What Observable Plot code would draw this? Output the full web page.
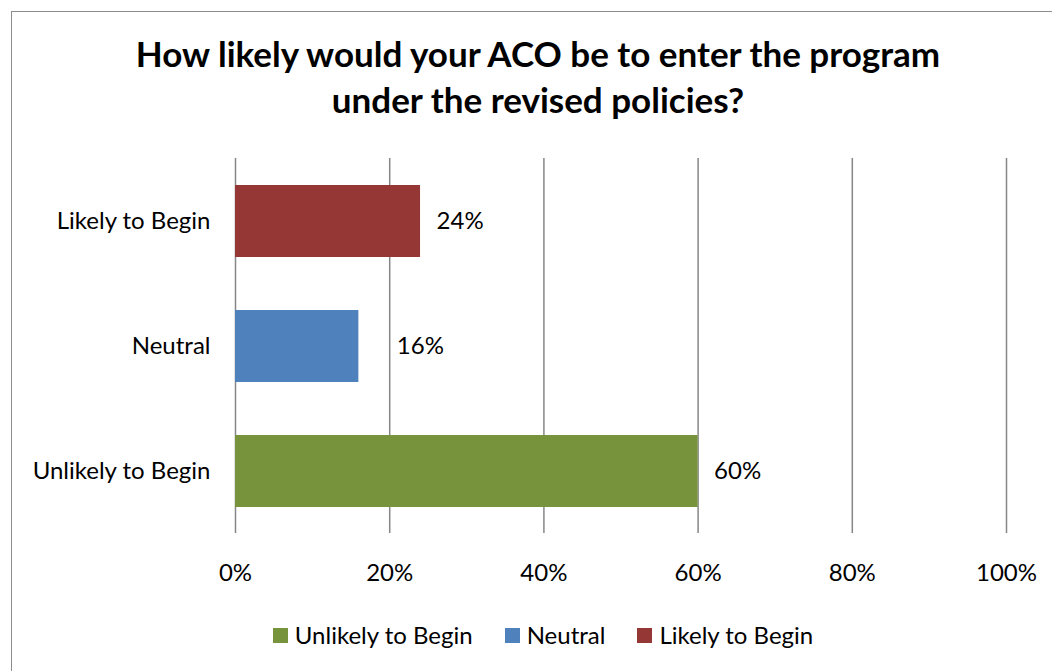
<!DOCTYPE html>
<html>
<head>
<meta charset="utf-8">
<script src="https://cdn.jsdelivr.net/npm/d3@7"></script>
<script src="https://cdn.jsdelivr.net/npm/@observablehq/plot@0.6"></script>
<style>
  html, body { margin: 0; padding: 0; background: #fff; }
  #wrap { position: relative; width: 1052px; height: 671px; overflow: hidden; font-family: Lato, "Open Sans", sans-serif; color: #000; }
  #frame { position: absolute; left: 11px; top: 11px; width: 1060px; height: 700px; border: 1.5px solid #8c8c8c; box-sizing: border-box; }
  #title { position: absolute; left: 0; top: 30px; width: 1076px; text-align: center; font-weight: bold; font-size: 35px; line-height: 46px; }
  #chart { position: absolute; left: 0; top: 158px; }
  #legend { position: absolute; left: 0; top: 620px; width: 1086px; display: flex; justify-content: center; gap: 32px; font-size: 24px; line-height: 30px; }
  .item { display: flex; align-items: center; }
  .sw { width: 15px; height: 15px; margin-right: 7px; }
</style>
</head>
<body>
<div id="wrap">
  <div id="frame"></div>
  <div id="title">How likely would your ACO be to enter the program<br>under the revised policies?</div>
  <div id="chart"></div>
  <div id="legend"></div>
</div>
<script>
const categories = ["Unlikely to Begin", "Neutral", "Likely to Begin"];
const values = [60, 16, 24];
const colors = ["#77933C", "#4F81BD", "#953735"];
const xTicks = [0, 20, 40, 60, 80, 100];

const data = categories.map((c, i) => ({category: c, value: values[i], color: colors[i]}));
// a label that would sit on a gridline is pushed past it (as in the original)
const nearGrid = d => xTicks.some(t => t > d.value && t - d.value < 5);

const chart = Plot.plot({
  width: 1052,
  height: 450,
  marginLeft: 235,
  marginRight: 46,
  marginTop: 0,
  marginBottom: 75,
  style: {fontFamily: "Lato, 'Open Sans', sans-serif", fontSize: "24px", color: "#000", background: "transparent"},
  x: {domain: [0, 100], ticks: xTicks, tickFormat: d => d + "%", label: null, tickSize: 0, tickPadding: 30},
  y: {domain: categories.slice().reverse(), paddingInner: 0.424, paddingOuter: 0.212, label: null, tickSize: 0, tickPadding: 25},
  marks: [
    Plot.gridX(xTicks, {stroke: "#868686", strokeOpacity: 1, strokeWidth: 1.5}),
    Plot.barX(data, {x: "value", y: "category", fill: "color"}),
    Plot.text(data.filter(d => !nearGrid(d)), {x: "value", y: "category", text: d => d.value + "%", textAnchor: "start", dx: 16, fill: "#000", fontSize: 24}),
    Plot.text(data.filter(nearGrid), {x: "value", y: "category", text: d => d.value + "%", textAnchor: "start", dx: 38, fill: "#000", fontSize: 24})
  ]
});
document.getElementById("chart").appendChild(chart);

const legend = document.getElementById("legend");
categories.forEach((c, i) => {
  const item = document.createElement("div");
  item.className = "item";
  const sw = document.createElement("span");
  sw.className = "sw";
  sw.style.background = colors[i];
  const t = document.createElement("span");
  t.textContent = c;
  item.appendChild(sw);
  item.appendChild(t);
  legend.appendChild(item);
});
</script>
</body>
</html>
